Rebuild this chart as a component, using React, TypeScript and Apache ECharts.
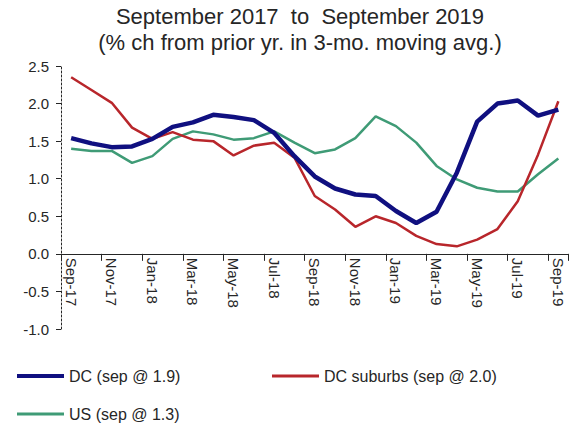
import React, { useEffect, useRef } from "react";
import * as echarts from "echarts";

const months = [
  "Sep-17", "Oct-17", "Nov-17", "Dec-17", "Jan-18", "Feb-18", "Mar-18", "Apr-18", "May-18",
  "Jun-18", "Jul-18", "Aug-18", "Sep-18", "Oct-18", "Nov-18", "Dec-18", "Jan-19", "Feb-19",
  "Mar-19", "Apr-19", "May-19", "Jun-19", "Jul-19", "Aug-19", "Sep-19",
];
const dcValues = [1.54, 1.47, 1.42, 1.43, 1.53, 1.69, 1.75, 1.85, 1.82, 1.78, 1.61, 1.3, 1.03, 0.87, 0.79, 0.77, 0.57, 0.41, 0.56, 1.08, 1.76, 2.0, 2.04, 1.84, 1.92];
const suburbsValues = [2.35, 2.18, 2.01, 1.68, 1.53, 1.62, 1.52, 1.5, 1.31, 1.44, 1.48, 1.28, 0.77, 0.59, 0.36, 0.5, 0.41, 0.24, 0.13, 0.1, 0.19, 0.33, 0.7, 1.32, 2.03];
const usValues = [1.4, 1.37, 1.37, 1.21, 1.3, 1.53, 1.63, 1.59, 1.52, 1.54, 1.63, 1.48, 1.34, 1.39, 1.54, 1.83, 1.7, 1.48, 1.17, 0.99, 0.88, 0.83, 0.83, 1.06, 1.27];
const seriesNames = ["DC (sep @ 1.9)", "DC suburbs (sep @ 2.0)", "US (sep @ 1.3)"];
const titleLines = ["September 2017  to  September 2019", "(% ch from prior yr. in 3-mo. moving avg.)"];

const FONT = "'Liberation Sans', Arial, sans-serif";
const Y_MIN = -1;
const Y_MAX = 2.5;
const GRID_TOP = 66;
const GRID_BOTTOM = 96;
const CHART_H = 425;

export default function App() {
  const ref = useRef<HTMLDivElement>(null);
  useEffect(() => {
    if (!ref.current) return;
    const chart = echarts.init(ref.current, undefined, { renderer: "svg" });
    const legendText = { fontFamily: FONT, fontSize: 16, color: "#262626" };
    const gridH = CHART_H - GRID_TOP - GRID_BOTTOM;
    // distance from grid bottom up to the zero line
    const zeroOffset = (gridH * (0 - Y_MIN)) / (Y_MAX - Y_MIN);
    chart.setOption({
      animation: false,
      backgroundColor: "#ffffff",
      graphic: [
        {
          type: "text",
          x: 300,
          y: 16,
          style: { text: titleLines[0], textAlign: "center", textVerticalAlign: "middle", font: `22px ${FONT}`, fill: "#262626" },
        },
        {
          type: "text",
          x: 300,
          y: 42,
          style: { text: titleLines[1], textAlign: "center", textVerticalAlign: "middle", font: `22px ${FONT}`, fill: "#262626" },
        },
      ],
      legend: [
        {
          data: [{ name: seriesNames[0], icon: "rect" }],
          left: 17,
          top: 368,
          itemWidth: 47,
          itemHeight: 4,
          textStyle: legendText,
          padding: 0,
        },
        {
          data: [{ name: seriesNames[1], icon: "rect" }],
          left: 272,
          top: 368,
          itemWidth: 47,
          itemHeight: 3,
          textStyle: legendText,
          padding: 0,
        },
        {
          data: [{ name: seriesNames[2], icon: "rect" }],
          left: 17,
          top: 406,
          itemWidth: 47,
          itemHeight: 3,
          textStyle: legendText,
          padding: 0,
        },
      ],
      grid: { left: 61, top: GRID_TOP, right: 0.5, bottom: GRID_BOTTOM, containLabel: false },
      xAxis: {
        type: "category",
        data: months,
        boundaryGap: true,
        offset: -zeroOffset,
        axisLine: { onZero: false, lineStyle: { color: "#262626", width: 1 } },
        axisTick: { show: true, interval: 1, length: 7, lineStyle: { color: "#262626" } },
        axisLabel: {
          interval: 1,
          rotate: -90,
          margin: 4,
          fontFamily: FONT,
          fontSize: 15,
          color: "#262626",
        },
        splitLine: { show: false },
      },
      yAxis: {
        type: "value",
        min: Y_MIN,
        max: Y_MAX,
        interval: 0.5,
        axisLine: { show: true, lineStyle: { color: "#262626", type: [2, 2], width: 1 } },
        axisTick: { show: true, length: 5, lineStyle: { color: "#262626" } },
        axisLabel: {
          margin: 12,
          fontFamily: FONT,
          fontSize: 15,
          color: "#262626",
          formatter: (v: number) => v.toFixed(1),
        },
        splitLine: { show: false },
      },
      series: [
        {
          name: seriesNames[0],
          type: "line",
          data: dcValues,
          symbol: "none",
          color: "#101080",
          lineStyle: { color: "#101080", width: 4.5 },
          z: 3,
        },
        {
          name: seriesNames[1],
          type: "line",
          data: suburbsValues,
          symbol: "none",
          color: "#b8262b",
          lineStyle: { color: "#b8262b", width: 2.5 },
          z: 2,
        },
        {
          name: seriesNames[2],
          type: "line",
          data: usValues,
          symbol: "none",
          color: "#3f9b76",
          lineStyle: { color: "#3f9b76", width: 2.5 },
          z: 1,
        },
      ],
    });
    return () => chart.dispose();
  }, []);
  return <div ref={ref} style={{ width: 569, height: 425, position: "absolute", left: 0, top: 0 }} />;
}
